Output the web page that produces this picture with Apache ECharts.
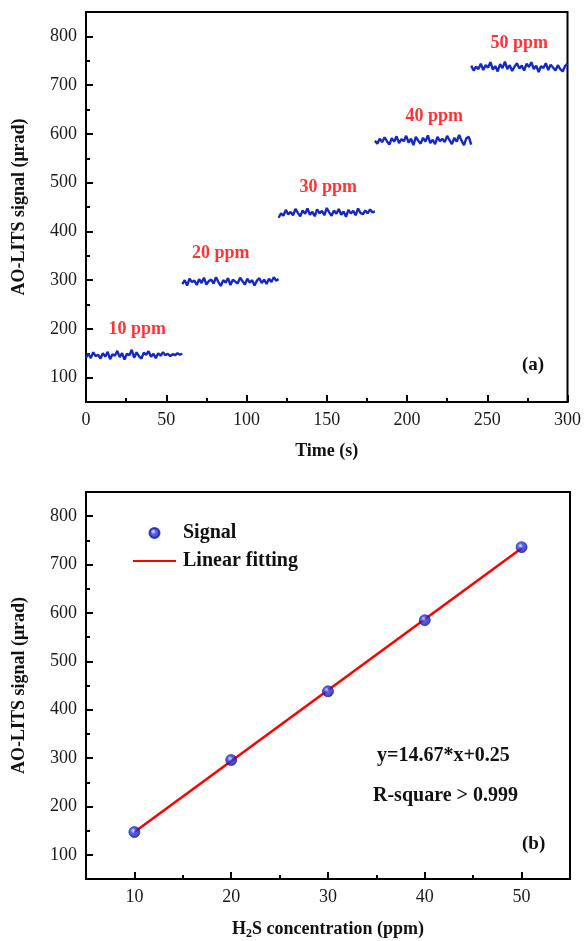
<!DOCTYPE html>
<html>
<head>
<meta charset="utf-8">
<script src="https://cdn.jsdelivr.net/npm/echarts@6/dist/echarts.min.js"></script>
<style>
  html, body { margin: 0; padding: 0; background: #fff; }
  #chart { width: 584px; height: 941px; }
</style>
</head>
<body>
<div id="chart"></div>
<script>
// ---- (a) time trace, one block per concentration step (1.5 s sampling) ----
const segStart = [0, 60, 120, 180, 240];
const sampleStep = 1.5;
const seg10 = [141,149,140,152,144,147,139,150,143,153,
  138,148,145,155,142,150,137,149,146,157,
  141,152,144,139,151,147,154,143,149,140,
  150,145,152,146,149,144,148,146,150,147,
  149];
const seg20 = [292,300,289,303,296,299,290,302,294,305,
  291,298,301,293,306,296,288,300,295,304,
  290,301,297,293,305,298,291,303,295,300,
  289,299,304,294,301,292,303,296,306,299,
  302];
const seg30 = [428,437,432,444,435,440,433,446,438,431,
  443,436,447,434,440,431,445,437,442,433,
  448,439,432,443,436,446,434,441,430,444,
  437,442,433,447,438,435,443,437,445,439,
  441];
const seg40 = [586,580,590,583,593,585,578,591,584,595,
  581,589,585,596,582,590,577,594,586,580,
  592,584,597,581,588,579,594,585,590,583,
  596,587,579,592,584,598,586,577,591,594,
  578];
const seg50 = [740,730,738,733,744,731,741,736,747,732,
  739,728,743,735,748,733,741,729,738,745,
  734,740,730,744,737,747,733,740,727,739,
  735,745,731,742,736,730,741,733,728,739,
  744];
const segments = [seg10, seg20, seg30, seg40, seg50];

// step annotations (placed in data coordinates)
const ppmLabels = ['10 ppm', '20 ppm', '30 ppm', '40 ppm', '50 ppm'];
const ppmLabelTime = [32, 84, 151, 217, 270];
const ppmLabelSignal = [200, 354, 491, 636, 786];

// ---- (b) calibration ----
const concentration = [10, 20, 30, 40, 50];
const signalMean = [147, 296, 438, 585, 736];
const fitSlope = 14.67;
const fitIntercept = 0.25;
const fitRange = [10, 50];

// ---- tick positions ----
const yMajor = [100, 200, 300, 400, 500, 600, 700, 800];
const yMinor = [150, 250, 350, 450, 550, 650, 750];
const tMajor = [0, 50, 100, 150, 200, 250, 300];
const tMinor = [25, 75, 125, 175, 225, 275];
const cMajor = [10, 20, 30, 40, 50];
const cMinor = [15, 25, 35, 45];

const FONT = '"Liberation Serif", "Times New Roman", serif';
const BLUE = '#1428c8';
const RED = '#ff0000';

function toPairs(start, arr) {
  return arr.map((v, i) => [start + i * sampleStep, v]);
}

const tickStyle = { color: '#000', width: 2 };

function majorAxis(base, ticks) {
  return Object.assign({
    type: 'value',
    axisLine: { show: true, onZero: false, lineStyle: { color: '#000', width: 2 } },
    splitLine: { show: false },
    axisTick: { show: true, inside: true, length: 7, lineStyle: tickStyle, customValues: ticks },
    axisLabel: { color: '#1a1a1a', fontFamily: FONT, fontSize: 18, margin: 9, customValues: ticks },
    nameTextStyle: { color: '#111', fontFamily: FONT, fontSize: 18, fontWeight: 'bold' },
    nameLocation: 'middle'
  }, base);
}
function minorAxis(base, ticks) {
  return Object.assign({
    type: 'value',
    offset: 0,
    axisLine: { show: false, onZero: false },
    splitLine: { show: false },
    axisLabel: { show: false },
    axisTick: { show: true, inside: true, length: 4, lineStyle: tickStyle, customValues: ticks }
  }, base);
}

const series = [];
segments.forEach((seg, k) => {
  series.push({
    type: 'line', xAxisIndex: 0, yAxisIndex: 0,
    data: toPairs(segStart[k], seg),
    showSymbol: false, symbol: 'none',
    lineStyle: { color: BLUE, width: 2.4 },
    silent: true, animation: false
  });
});
series.push({
  type: 'scatter', xAxisIndex: 0, yAxisIndex: 0,
  data: ppmLabels.map((s, i) => ({ name: s, value: [ppmLabelTime[i], ppmLabelSignal[i]] })),
  symbolSize: 0,
  label: {
    show: true, position: 'inside', formatter: p => p.name,
    color: RED, fontFamily: FONT, fontSize: 18, fontWeight: 'bold'
  },
  silent: true, animation: false
});
series.push({
  name: 'Linear fitting',
  type: 'line', xAxisIndex: 2, yAxisIndex: 2,
  data: fitRange.map(x => [x, fitSlope * x + fitIntercept]),
  showSymbol: false, symbol: 'none',
  lineStyle: { color: RED, width: 2.5 },
  itemStyle: { color: RED },
  z: 2, animation: false
});
series.push({
  name: 'Signal',
  type: 'scatter', xAxisIndex: 2, yAxisIndex: 2,
  data: concentration.map((c, i) => [c, signalMean[i]]),
  symbol: 'circle', symbolSize: 11,
  itemStyle: {
    color: {
      type: 'radial', x: 0.4, y: 0.38, r: 0.7,
      colorStops: [
        { offset: 0, color: '#e4e8ff' },
        { offset: 0.3, color: '#3040f0' },
        { offset: 1, color: '#06068c' }
      ]
    },
    borderColor: '#10189c', borderWidth: 0.8
  },
  z: 3, animation: false
});

const option = {
  backgroundColor: '#fff',
  animation: false,
  grid: [
    { left: 86, right: 14, top: 12, height: 390, show: true, borderColor: '#000', borderWidth: 2, backgroundColor: 'transparent' },
    { left: 86, right: 14, top: 492, height: 390, show: true, borderColor: '#000', borderWidth: 2, backgroundColor: 'transparent' }
  ],
  xAxis: [
    majorAxis({ gridIndex: 0, position: 'bottom', min: 0, max: 300, name: 'Time (s)', nameGap: 40 }, tMajor),
    minorAxis({ gridIndex: 0, position: 'bottom', min: 0, max: 300 }, tMinor),
    majorAxis({ gridIndex: 1, position: 'bottom', min: 5, max: 55, name: '{b|H}{s|2}{b|S concentration (ppm)}', nameGap: 39,
      nameTextStyle: {
        color: '#111', fontFamily: FONT, fontSize: 18, fontWeight: 'bold',
        rich: {
          b: { fontFamily: FONT, fontSize: 18, fontWeight: 'bold', color: '#111' },
          s: { fontFamily: FONT, fontSize: 12, fontWeight: 'bold', color: '#111', verticalAlign: 'bottom', padding: [10, 0, 0, 0] }
        }
      } }, cMajor),
    minorAxis({ gridIndex: 1, position: 'bottom', min: 5, max: 55 }, cMinor)
  ],
  yAxis: [
    majorAxis({ gridIndex: 0, position: 'left', min: 50, max: 850, name: 'AO-LITS signal (μrad)', nameGap: 58 }, yMajor),
    minorAxis({ gridIndex: 0, position: 'left', min: 50, max: 850 }, yMinor),
    majorAxis({ gridIndex: 1, position: 'left', min: 50, max: 850, name: 'AO-LITS signal (μrad)', nameGap: 58 }, yMajor),
    minorAxis({ gridIndex: 1, position: 'left', min: 50, max: 850 }, yMinor)
  ],
  legend: {
    data: [
      { name: 'Signal' },
      { name: 'Linear fitting', itemStyle: { opacity: 0 } }
    ],
    orient: 'vertical',
    left: 127, top: 518,
    itemWidth: 43, itemHeight: 10, itemGap: 8,
    textStyle: { color: '#111', fontFamily: FONT, fontSize: 20, fontWeight: 'bold', padding: [0, 0, 0, 2] },
    selectedMode: false
  },
  graphic: [
    { type: 'text', left: 522, top: 356, style: { text: '(a)', font: 'bold 19px ' + FONT, fill: '#111' } },
    { type: 'text', left: 522, top: 835, style: { text: '(b)', font: 'bold 19px ' + FONT, fill: '#111' } },
    { type: 'text', left: 377, top: 746, style: { text: 'y=14.67*x+0.25', font: 'bold 20px ' + FONT, fill: '#111' } },
    { type: 'text', left: 373, top: 786, style: { text: 'R-square > 0.999', font: 'bold 20px ' + FONT, fill: '#111' } }
  ],
  series: series
};

const chart = echarts.init(document.getElementById('chart'), null, { renderer: 'canvas' });
chart.setOption(option);
</script>
</body>
</html>
